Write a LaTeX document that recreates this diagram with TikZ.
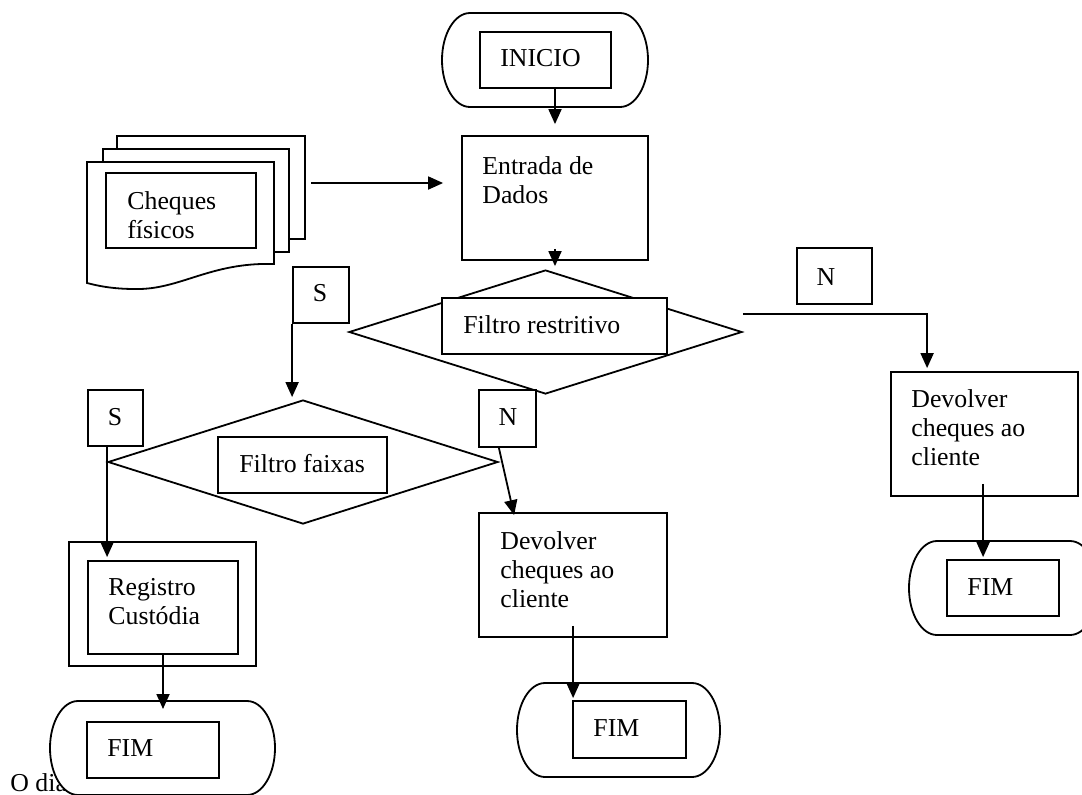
\documentclass[tikz,border=0pt]{standalone}
\usepackage{fontspec}
\setmainfont{Liberation Serif}
\usetikzlibrary{shapes.geometric,arrows.meta,fit,calc}
\newcommand\termshape[4]{%
  \draw[line, fill=white] (#1+28,#3) -- (#2-28,#3)
    arc[start angle=-90,end angle=90,x radius=28,y radius={(#4-#3)/2}]
    -- (#1+28,#4)
    arc[start angle=90,end angle=270,x radius=28,y radius={(#4-#3)/2}] -- cycle;}
\begin{document}
\begin{tikzpicture}[x=0.5pt,y=-0.5pt,
  line/.style={line width=0.9pt},
  box/.style={draw, line width=0.9pt, fill=white, inner sep=0pt},
  dia/.style={draw, diamond, line width=0.9pt, fill=white, inner sep=0pt},
  txt/.style={inner sep=0pt, font=\fontsize{12.9pt}{14.5pt}\selectfont, align=left},
  arr/.style={line width=0.9pt, -{Triangle[width=6.5pt,length=7.5pt]}}]
\useasboundingbox (0,0) rectangle (1082,794);
\clip (0,0) rectangle (1082,794);

% INICIO
\termshape{442}{648}{13}{107}
\node[box, fit={(480,32)(611,88)}] (inicio) {};
\node[txt, anchor=base west] (inicioT) at (500,66.5) {INICIO};

% Entrada de Dados
\node[box, fit={(462,136)(648,260)}] (entrada) {};
\node[txt, anchor=north west] (entradaT) at (482,156) {Entrada de\\Dados};

% Cheques fisicos (stack of documents)
\draw[line, fill=white] (117,136) rectangle (305,239);
\draw[line, fill=white] (103,149) rectangle (289,252);
\draw[line, fill=white] (87,162) -- (274,162) -- (274,264)
  .. controls (210,262) and (180,290) .. (135,289)
  .. controls (110,289) and (95,285) .. (87,283) -- cycle;
\node[box, fit={(106,173)(256,248)}] (cheques) {};
\node[txt, anchor=north west] (chequesT) at (127,191) {Cheques\\físicos};
\coordinate (stackE) at (311,183);

% Filtro restritivo
\node[dia, minimum width=196.5pt, minimum height=62pt] (filtroR) at (545.5,332) {};
\node[box, fit={(442,298)(667,354)}] (filtroRin) {};
\node[txt, anchor=base west] (filtroRT) at (463,333.5) {Filtro restritivo};

% Filtro faixas
\node[dia, minimum width=195pt, minimum height=62pt] (filtroF) at (303,462) {};
\node[box, fit={(218,437)(387,493)}] (filtroFin) {};
\node[txt, anchor=base west] (filtroFT) at (239,472.5) {Filtro faixas};

% S / N labels
\node[box, fit={(293,267)(349,323)}] (sUp) {};
\node[txt, anchor=base] (sUpT) at (320,301.5) {S};
\node[box, fit={(88,390)(143,446)}] (sLo) {};
\node[txt, anchor=base] (sLoT) at (115,425.5) {S};
\node[box, fit={(797,248)(872,304)}] (nUp) {};
\node[txt, anchor=base] (nUpT) at (826,285.5) {N};
\node[box, fit={(479,390)(536,447)}] (nLo) {};
\node[txt, anchor=base] (nLoT) at (508,425.5) {N};

% Devolver (right)
\node[box, fit={(891,372)(1078,496)}] (devR) {};
\node[txt, anchor=north west] (devRT) at (911,389) {Devolver\\cheques ao\\cliente};

% Devolver (middle)
\node[box, fit={(479,513)(667,637)}] (devM) {};
\node[txt, anchor=north west] (devMT) at (500,531) {Devolver\\cheques ao\\cliente};

% Registro Custodia
\node[box, fit={(69,542)(256,666)}] (regOut) {};
\node[box, fit={(88,561)(238,654)}] (regIn) {};
\node[txt, anchor=north west] (regT) at (108,578) {Registro\\Custódia};

% FIM right
\termshape{909}{1098}{541}{635}
\node[box, fit={(947,560)(1059,616)}] (fimR) {};
\node[txt, anchor=base west] (fimRT) at (967,595.5) {FIM};

% FIM middle
\termshape{517}{720}{683}{777}
\node[box, fit={(573,701)(686,758)}] (fimM) {};
\node[txt, anchor=base west] (fimMT) at (593,736.5) {FIM};

% text behind lower-left FIM
\node[txt, anchor=base west] (odia) at (10,791) {O dia};

% FIM lower left
\termshape{50}{275}{701}{795}
\coordinate (fimLtop) at (163,701);
\node[box, fit={(87,722)(219,778)}] (fimL) {};
\node[txt, anchor=base west] (fimLT) at (107,756.5) {FIM};

% connectors
\draw[arr, shorten >=5.5pt] (entrada.north |- inicio.south) -- (entrada.north);
\draw[arr, shorten >=9pt] (stackE) -- (entrada.west |- stackE);
\draw[arr, shorten >=1.5pt] ($(entrada.south)+(0,-12)$) -- (entrada.south |- filtroR.north);
\draw[arr, shorten >=1.5pt] ($(filtroR.east)+(0,-18)$) -| ($(devR.north west)+(37,0)$);
\draw[arr, shorten >=1pt] (sUp.south west) -- (sUp.south west |- filtroF.north);
\draw[arr, shorten >=1.5pt] (sLo.south -| filtroF.west) -- (regIn.north -| filtroF.west);
\draw[arr] (nLo.south -| filtroF.east) -- ($(devM.north west)+(36,3)$);
\coordinate (r1) at ($(devR.south west)+(93,-13)$);
\draw[arr, shorten >=1pt] (r1) -- (r1 |- fimR.north);
\coordinate (m1) at ($(devM.south west)+(95,-12)$);
\draw[arr, shorten >=1pt] (m1) -- (m1 |- fimM.north);
\draw[arr] (regIn.south) -- ($(fimLtop)+(0,8)$);
\end{tikzpicture}
\end{document}
